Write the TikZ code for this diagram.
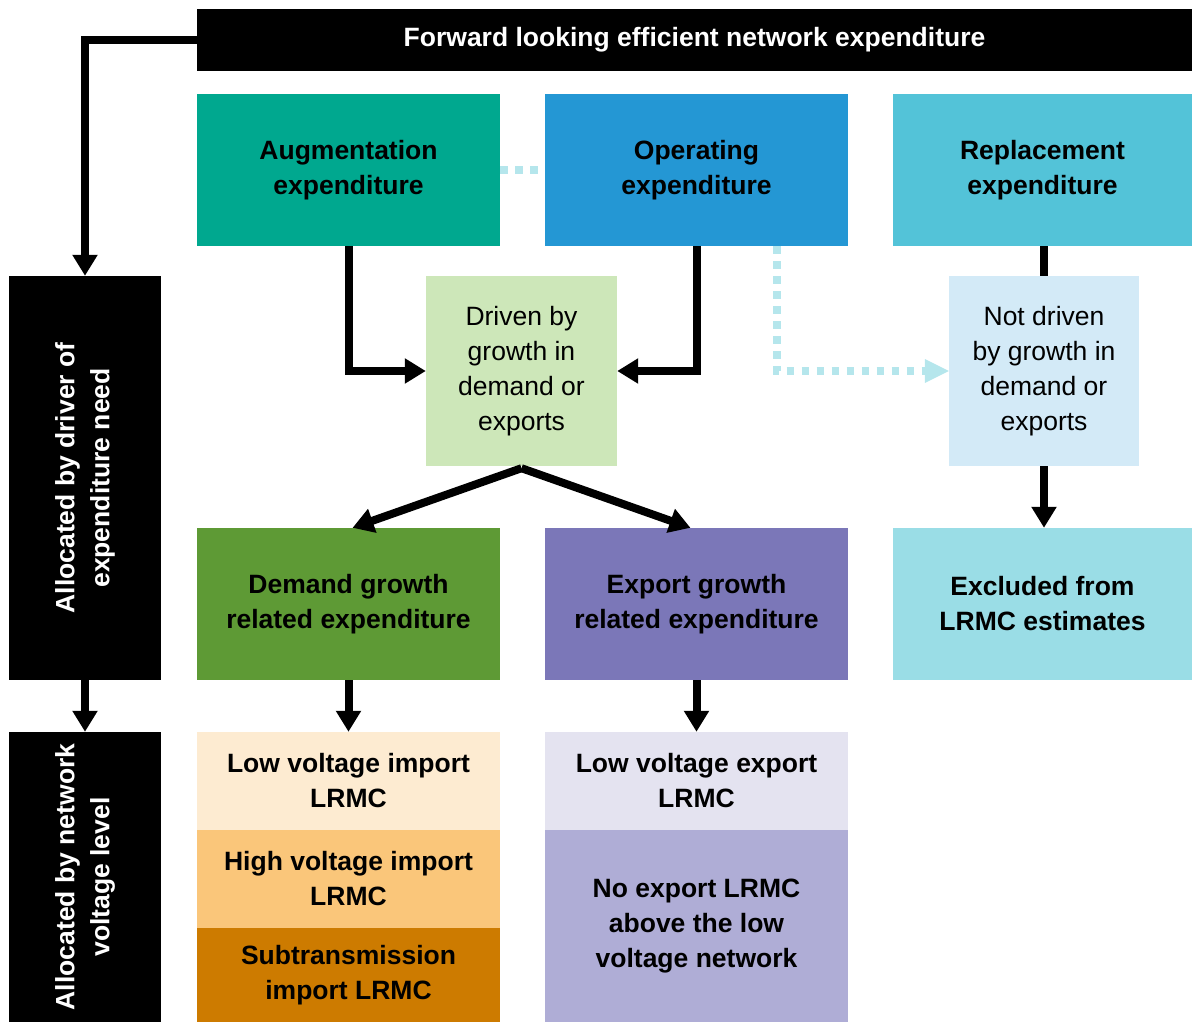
\documentclass[tikz,border=0pt]{standalone}
\usepackage{fontspec}
\setmainfont{Liberation Sans}
\usetikzlibrary{arrows.meta}
\definecolor{augc}{HTML}{00A88F}
\definecolor{opc}{HTML}{2497D4}
\definecolor{repc}{HTML}{53C3D8}
\definecolor{drvc}{HTML}{CDE7B9}
\definecolor{ndc}{HTML}{D3EAF7}
\definecolor{demc}{HTML}{5E9A35}
\definecolor{expc}{HTML}{7B77B8}
\definecolor{excc}{HTML}{9ADDE6}
\definecolor{lvic}{HTML}{FDEBD1}
\definecolor{hvic}{HTML}{FAC67A}
\definecolor{subc}{HTML}{CD7B00}
\definecolor{lvec}{HTML}{E4E3F0}
\definecolor{noec}{HTML}{AFADD6}
\definecolor{dotc}{HTML}{B5E6EC}
\tikzset{
  box/.style={inner sep=0pt, align=center, font=\fontsize{26.5}{35}\selectfont},
  boldbox/.style={box, font=\fontsize{26.5}{35}\selectfont\bfseries},
  conn/.style={line width=8pt, draw=black},
  arr/.style={conn, -{Triangle[width=24pt,length=21pt]}},
  dotline/.style={line width=8pt, draw=dotc, dash pattern=on 7.5pt off 7.5pt},
}
\begin{document}
\begin{tikzpicture}[x=1pt,y=-1pt]
\useasboundingbox (0,0) rectangle (1192,1022);
% top bar
\node[boldbox, fill=black, text=white, minimum width=995pt, minimum height=62pt] (top) at (694.5,40) {Forward looking efficient network expenditure};
% row 1
\node[boldbox, fill=augc, minimum width=303pt, minimum height=152pt] (aug) at (348.5,170) {Augmentation\\expenditure};
\node[boldbox, fill=opc, minimum width=303pt, minimum height=152pt] (op) at (696.5,170) {Operating\\expenditure};
\node[boldbox, fill=repc, minimum width=299pt, minimum height=152pt] (rep) at (1042.5,170) {Replacement\\expenditure};
% row 2
\node[box, fill=drvc, minimum width=191pt, minimum height=190pt] (drv) at (521.5,371) {Driven by\\growth in\\demand or\\exports};
\node[box, fill=ndc, minimum width=190pt, minimum height=190pt] (nd) at (1044,371) {Not driven\\by growth in\\demand or\\exports};
% row 3
\node[boldbox, fill=demc, minimum width=303pt, minimum height=152pt] (dem) at (348.5,604) {Demand growth\\related expenditure};
\node[boldbox, fill=expc, minimum width=303pt, minimum height=152pt] (exp) at (696.5,604) {Export growth\\related expenditure};
\node[boldbox, fill=excc, minimum width=299pt, minimum height=152pt] (exc) at (1042.5,604) {Excluded from\\LRMC estimates};
% row 4
\node[boldbox, fill=lvic, minimum width=303pt, minimum height=98pt] (lvi) at (348.5,781) {Low voltage import\\LRMC};
\node[boldbox, fill=hvic, minimum width=303pt, minimum height=98pt] (hvi) at (348.5,879) {High voltage import\\LRMC};
\node[boldbox, fill=subc, minimum width=303pt, minimum height=94pt] (sub) at (348.5,975) {Subtransmission\\import LRMC};
\node[boldbox, fill=lvec, minimum width=303pt, minimum height=98pt] (lve) at (696.5,781) {Low voltage export\\LRMC};
\node[boldbox, fill=noec, minimum width=303pt, minimum height=192pt] (noe) at (696.5,926) {No export LRMC\\above the low\\voltage network};
% left boxes
\node[fill=black, minimum width=152pt, minimum height=404pt, inner sep=0pt] (lb1) at (85,478) {};
\node[boldbox, text=white, rotate=90] (lb1t) at (lb1.center) {Allocated by driver of\\expenditure need};
\node[fill=black, minimum width=152pt, minimum height=290pt, inner sep=0pt] (lb2) at (85,877) {};
\node[boldbox, text=white, rotate=90] (lb2t) at (lb2.center) {Allocated by network\\voltage level};
% connectors
\draw[arr] (top.west) -| (lb1.north);
\draw[arr] (lb1.south) -- (lb2.north);
\draw[arr] (aug.south) |- (drv.west);
\draw[arr] (op.south) |- (drv.east);
\draw[dotline] (aug.east) -- (op.west);
\draw[dotline] ([xshift=80pt]op.south) |- ([xshift=-20pt]nd.west);
\fill[dotc] (nd.west) -- ++(-24pt,-12pt) -- ++(0,24pt) -- cycle;
\draw[conn] (nd.north |- rep.south) -- (nd.north);
\draw[arr] (nd.south) -- (nd.south |- exc.north);
\draw[arr] ([yshift=-2pt]drv.south) -- ([xshift=4pt]dem.north);
\draw[arr] ([yshift=-2pt]drv.south) -- ([xshift=-6pt]exp.north);
\draw[arr] (dem.south) -- (lvi.north);
\draw[arr] (exp.south) -- (lve.north);
\end{tikzpicture}
\end{document}
